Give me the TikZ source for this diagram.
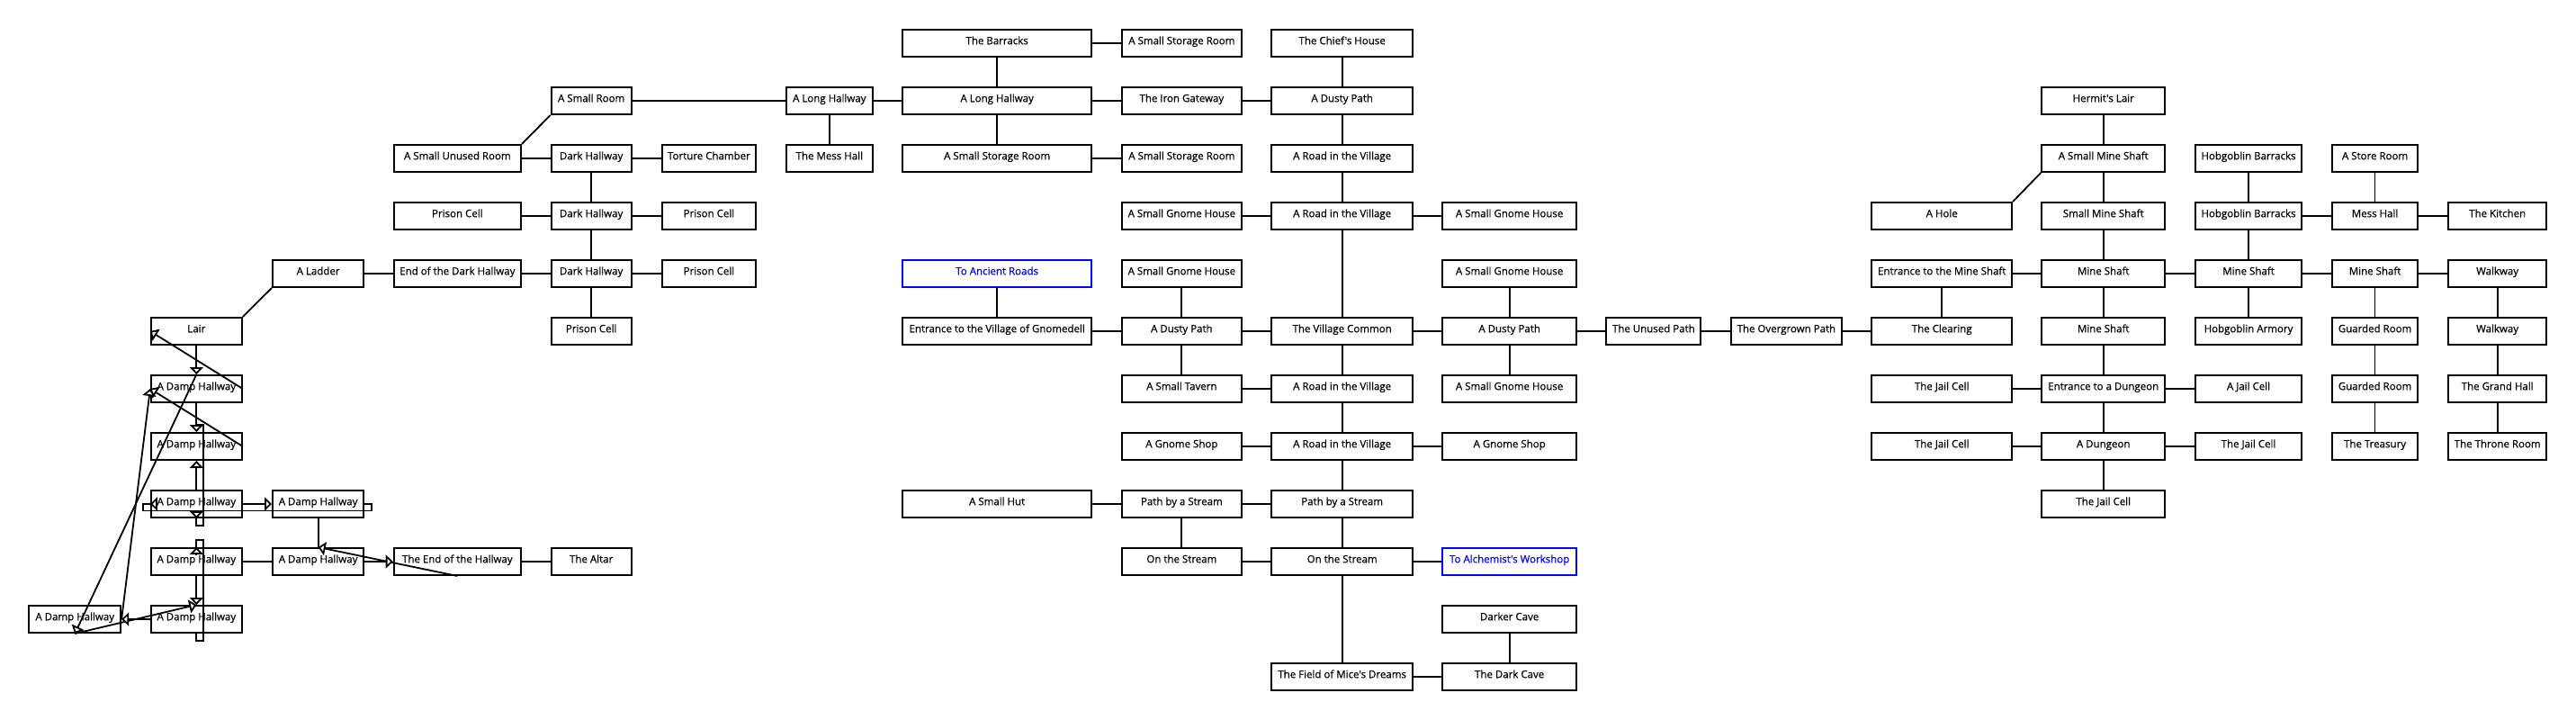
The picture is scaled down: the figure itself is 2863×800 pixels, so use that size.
\documentclass[tikz,border=0pt]{standalone}
\usepackage{fontspec}
\setmainfont{Open Sans}
\newfontfamily\roomfam{Open Sans}[UprightFeatures={FakeBold=0.5}]
\usetikzlibrary{arrows.meta,calc}
\newcommand\roomfont{\roomfam\fontsize{11.5}{13}\selectfont}
\def\cA{83.25}\def\cB{218.35}\def\cC{353.65}\def\cD{508.35}\def\cE{657.15}\def\cF{787.9}
\def\cG{921.8}\def\cH{1108.15}\def\cI{1313.35}\def\cJ{1491.65}\def\cK{1677.65}\def\cL{1837.85}
\def\cM{1985.35}\def\cN{2158.2}\def\cO{2337.7}\def\cP{2499}\def\cQ{2639.55}\def\cR{2775.65}
\tikzset{
  room/.style={draw, line width=2pt, fill=white, minimum height=30pt, inner sep=0pt,
    text height=9pt, text depth=6.5pt, font=\roomfont},
  portal/.style={room, draw=blue, text=blue},
  link/.style={line width=1.8pt},
  oneway/.style={link, -{Triangle[fill=white, length=8pt, width=15pt]}},
  headonly/.style={line width=1.8pt, -{Triangle[fill=white, length=8pt, width=15pt]}},
  wA/.style={minimum width=101.7pt}, wB/.style={minimum width=100.9pt},
  wC/.style={minimum width=101.3pt}, wD/.style={minimum width=141.3pt},
  wE/.style={minimum width=89.1pt},  wF/.style={minimum width=104pt},
  wG/.style={minimum width=96.4pt},  wH/.style={minimum width=209.5pt},
  wI/.style={minimum width=133.3pt}, wJ/.style={minimum width=156.7pt},
  wK/.style={minimum width=148.7pt}, wL/.style={minimum width=105.1pt},
  wM/.style={minimum width=123.7pt}, wN/.style={minimum width=155.8pt},
  wO/.style={minimum width=137pt},   wP/.style={minimum width=118.4pt},
  wQ/.style={minimum width=95.5pt},  wR/.style={minimum width=109.5pt},
}
\begin{document}
\begin{tikzpicture}[x=1pt, y=-1pt]
\fill[white] (0,0) rectangle (2863,800);
\useasboundingbox (0,0) rectangle (2863,800);
% row 0
\node[room,wH] (h0) at (\cH,48) {The Barracks};
\node[room,wI] (i0) at (\cI,48) {A Small Storage Room};
\node[room,wJ] (j0) at (\cJ,48) {The Chief's House};
% row 1
\node[room,wE] (e1) at (\cE,112) {A Small Room};
\node[room,wG] (g1) at (\cG,112) {A Long Hallway};
\node[room,wH] (h1) at (\cH,112) {A Long Hallway};
\node[room,wI] (i1) at (\cI,112) {The Iron Gateway};
\node[room,wJ] (j1) at (\cJ,112) {A Dusty Path};
\node[room,wO] (o1) at (\cO,112) {Hermit's Lair};
% row 2
\node[room,wD] (d2) at (\cD,176) {A Small Unused Room};
\node[room,wE] (e2) at (\cE,176) {Dark Hallway};
\node[room,wF] (f2) at (\cF,176) {Torture Chamber};
\node[room,wG] (g2) at (\cG,176) {The Mess Hall};
\node[room,wH] (h2) at (\cH,176) {A Small Storage Room};
\node[room,wI] (i2) at (\cI,176) {A Small Storage Room};
\node[room,wJ] (j2) at (\cJ,176) {A Road in the Village};
\node[room,wO] (o2) at (\cO,176) {A Small Mine Shaft};
\node[room,wP] (p2) at (\cP,176) {Hobgoblin Barracks};
\node[room,wQ] (q2) at (\cQ,176) {A Store Room};
% row 3
\node[room,wD] (d3) at (\cD,240) {Prison Cell};
\node[room,wE] (e3) at (\cE,240) {Dark Hallway};
\node[room,wF] (f3) at (\cF,240) {Prison Cell};
\node[room,wI] (i3) at (\cI,240) {A Small Gnome House};
\node[room,wJ] (j3) at (\cJ,240) {A Road in the Village};
\node[room,wK] (k3) at (\cK,240) {A Small Gnome House};
\node[room,wN] (n3) at (\cN,240) {A Hole};
\node[room,wO] (o3) at (\cO,240) {Small Mine Shaft};
\node[room,wP] (p3) at (\cP,240) {Hobgoblin Barracks};
\node[room,wQ] (q3) at (\cQ,240) {Mess Hall};
\node[room,wR] (r3) at (\cR,240) {The Kitchen};
% row 4
\node[room,wC] (c4) at (\cC,304) {A Ladder};
\node[room,wD] (d4) at (\cD,304) {End of the Dark Hallway};
\node[room,wE] (e4) at (\cE,304) {Dark Hallway};
\node[room,wF] (f4) at (\cF,304) {Prison Cell};
\node[portal,wH] (h4) at (\cH,304) {To Ancient Roads};
\node[room,wI] (i4) at (\cI,304) {A Small Gnome House};
\node[room,wK] (k4) at (\cK,304) {A Small Gnome House};
\node[room,wN] (n4) at (\cN,304) {Entrance to the Mine Shaft};
\node[room,wO] (o4) at (\cO,304) {Mine Shaft};
\node[room,wP] (p4) at (\cP,304) {Mine Shaft};
\node[room,wQ] (q4) at (\cQ,304) {Mine Shaft};
\node[room,wR] (r4) at (\cR,304) {Walkway};
% row 5
\node[room,wB] (b5) at (\cB,368) {Lair};
\node[room,wE] (e5) at (\cE,368) {Prison Cell};
\node[room,wH] (h5) at (\cH,368) {Entrance to the Village of Gnomedell};
\node[room,wI] (i5) at (\cI,368) {A Dusty Path};
\node[room,wJ] (j5) at (\cJ,368) {The Village Common};
\node[room,wK] (k5) at (\cK,368) {A Dusty Path};
\node[room,wL] (l5) at (\cL,368) {The Unused Path};
\node[room,wM] (m5) at (\cM,368) {The Overgrown Path};
\node[room,wN] (n5) at (\cN,368) {The Clearing};
\node[room,wO] (o5) at (\cO,368) {Mine Shaft};
\node[room,wP] (p5) at (\cP,368) {Hobgoblin Armory};
\node[room,wQ] (q5) at (\cQ,368) {Guarded Room};
\node[room,wR] (r5) at (\cR,368) {Walkway};
% row 6
\node[room,wB] (b6) at (\cB,432) {A Damp Hallway};
\node[room,wI] (i6) at (\cI,432) {A Small Tavern};
\node[room,wJ] (j6) at (\cJ,432) {A Road in the Village};
\node[room,wK] (k6) at (\cK,432) {A Small Gnome House};
\node[room,wN] (n6) at (\cN,432) {The Jail Cell};
\node[room,wO] (o6) at (\cO,432) {Entrance to a Dungeon};
\node[room,wP] (p6) at (\cP,432) {A Jail Cell};
\node[room,wQ] (q6) at (\cQ,432) {Guarded Room};
\node[room,wR] (r6) at (\cR,432) {The Grand Hall};
% row 7
\node[room,wB] (b7) at (\cB,496) {A Damp Hallway};
\node[room,wI] (i7) at (\cI,496) {A Gnome Shop};
\node[room,wJ] (j7) at (\cJ,496) {A Road in the Village};
\node[room,wK] (k7) at (\cK,496) {A Gnome Shop};
\node[room,wN] (n7) at (\cN,496) {The Jail Cell};
\node[room,wO] (o7) at (\cO,496) {A Dungeon};
\node[room,wP] (p7) at (\cP,496) {The Jail Cell};
\node[room,wQ] (q7) at (\cQ,496) {The Treasury};
\node[room,wR] (r7) at (\cR,496) {The Throne Room};
% row 8
\node[room,wB] (b8) at (\cB,560) {A Damp Hallway};
\node[room,wC] (c8) at (\cC,560) {A Damp Hallway};
\node[room,wH] (h8) at (\cH,560) {A Small Hut};
\node[room,wI] (i8) at (\cI,560) {Path by a Stream};
\node[room,wJ] (j8) at (\cJ,560) {Path by a Stream};
\node[room,wO] (o8) at (\cO,560) {The Jail Cell};
% row 9
\node[room,wB] (b9) at (\cB,624) {A Damp Hallway};
\node[room,wC] (c9) at (\cC,624) {A Damp Hallway};
\node[room,wD] (d9) at (\cD,624) {The End of the Hallway};
\node[room,wE] (e9) at (\cE,624) {The Altar};
\node[room,wI] (i9) at (\cI,624) {On the Stream};
\node[room,wJ] (j9) at (\cJ,624) {On the Stream};
\node[portal,wK] (k9) at (\cK,624) {To Alchemist's Workshop};
% row 10
\node[room,wA] (a10) at (\cA,688) {A Damp Hallway};
\node[room,wB] (b10) at (\cB,688) {A Damp Hallway};
\node[room,wK] (k10) at (\cK,688) {Darker Cave};
% row 11
\node[room,wJ] (j11) at (\cJ,752) {The Field of Mice's Dreams};
\node[room,wK] (k11) at (\cK,752) {The Dark Cave};

% two-way links
\draw[link] (b5.north east) -- (c4.south west);
\draw[link] (c4) -- (d4);  \draw[link] (d4) -- (e4);  \draw[link] (e4) -- (f4);
\draw[link] (e4) -- (e5);  \draw[link] (e3) -- (e4);  \draw[link] (d3) -- (e3);
\draw[link] (e3) -- (f3);  \draw[link] (e2) -- (e3);  \draw[link] (d2) -- (e2);
\draw[link] (e2) -- (f2);  \draw[link] (d2.north east) -- (e1.south west);
\draw[link] (e1) -- (g1);  \draw[link] (g1) -- (g2);  \draw[link] (g1) -- (h1);
\draw[link] (h0) -- (h1);  \draw[link] (h0) -- (i0);  \draw[link] (h1) -- (h2);
\draw[link] (h2) -- (i2);  \draw[link] (h1) -- (i1);  \draw[link] (i1) -- (j1);
\draw[link] (j0) -- (j1);  \draw[link] (j1) -- (j2);  \draw[link] (j2) -- (j3);
\draw[link] (i3) -- (j3);  \draw[link] (j3) -- (k3);  \draw[link] (j3) -- (j5);
\draw[link] (h4) -- (h5);  \draw[link] (h5) -- (i5);  \draw[link] (i5) -- (j5);
\draw[link] (j5) -- (k5);  \draw[link] (i4) -- (i5);  \draw[link] (i5) -- (i6);
\draw[link] (k4) -- (k5);  \draw[link] (k5) -- (k6);  \draw[link] (j5) -- (j6);
\draw[link] (i6) -- (j6);  \draw[link] (j6) -- (j7);  \draw[link] (i7) -- (j7);
\draw[link] (j7) -- (k7);  \draw[link] (j7) -- (j8);  \draw[link] (h8) -- (i8);
\draw[link] (i8) -- (j8);  \draw[link] (i8) -- (i9);  \draw[link] (j8) -- (j9);
\draw[link] (i9) -- (j9);  \draw[link] (j9) -- (k9);  \draw[link] (j9) -- (j11);
\draw[link] (j11) -- (k11); \draw[link] (k10) -- (k11);
\draw[link] (k5) -- (l5);  \draw[link] (l5) -- (m5);  \draw[link] (m5) -- (n5);
\draw[link] (n4) -- (n5);  \draw[link] (n4) -- (o4);
\draw[link] (n3.north east) -- (o2.south west);
\draw[link] (o1) -- (o2);  \draw[link] (o2) -- (o3);  \draw[link] (o3) -- (o4);
\draw[link] (o4) -- (o5);  \draw[link] (o5) -- (o6);  \draw[link] (o6) -- (o7);
\draw[link] (o7) -- (o8);  \draw[link] (n6) -- (o6);  \draw[link] (o6) -- (p6);
\draw[link] (n7) -- (o7);  \draw[link] (o7) -- (p7);  \draw[link] (o4) -- (p4);
\draw[link] (p4) -- (q4);  \draw[link] (q4) -- (r4);  \draw[link] (p2) -- (p3);
\draw[link] (p3) -- (p4);  \draw[link] (p4) -- (p5);  \draw[link] (p3) -- (q3);
\draw[link] (q3) -- (r3);  \draw[link] (q2) -- (q3);  \draw[link] (q4) -- (q5);
\draw[link] (q5) -- (q6);  \draw[link] (q6) -- (q7);  \draw[link] (r4) -- (r5);
\draw[link] (r5) -- (r6);  \draw[link] (r6) -- (r7);
\draw[link] (b9) -- (c9);  \draw[link] (c8) -- (c9);  \draw[link] (d9) -- (e9);

% doubled link outlines around the damp hallways
\draw[link] ($(b7.north)+(0,-8)$) -- ($(b7.north)+(7.5,-8)$) -- ($(b8.south)+(7.5,8)$)
  -- ($(b8.south)+(0,8)$) -- (b8.south);
\draw[link] (b8.west) -- ($(b8.west)+(-8,0)$) -- ($(b8.west)+(-8,7.5)$)
  -- ($(c8.east)+(8,7.5)$) -- ($(c8.east)+(8,0)$) -- (c8.east);
\draw[link] (b9.north) -- ($(b9.north)+(0,-8)$) -- ($(b9.north)+(7.5,-8)$)
  -- ($(b10.south)+(7.5,8)$) -- ($(b10.south)+(0,8)$) -- (b10.south);

% one-way links
\draw[oneway] (b5.south) -- (b6.north);
\draw[oneway] (b6.east) -- (b5.west);
\draw[oneway] (b7.east) -- (b6.west);
\draw[oneway] (b6.south) -- (b7.north);
\draw[oneway] (b8.north) -- (b7.south);
\draw[oneway] (b8.east) -- (c8.west);
\draw[oneway] (a10.east) -- (b6.west);
\draw[oneway] (b6.north) -- (a10.south);
\draw[oneway] (a10.south) -- (b10.north);
\draw[oneway] (b10.west) -- (a10.east);
\draw[oneway] (b9.south) -- (b10.north);
\draw[oneway] (d9.south) -- (c9.north);
\draw[oneway] (c9.east) -- (d9.west);
\draw[headonly] ($(b9.north)+(0,8)$) -- (b9.north);
\draw[headonly] ($(b8.south)+(0,-8)$) -- (b8.south);
\draw[headonly] ($(b8.west)+(8,0)$) -- (b8.west);
\end{tikzpicture}
\end{document}
